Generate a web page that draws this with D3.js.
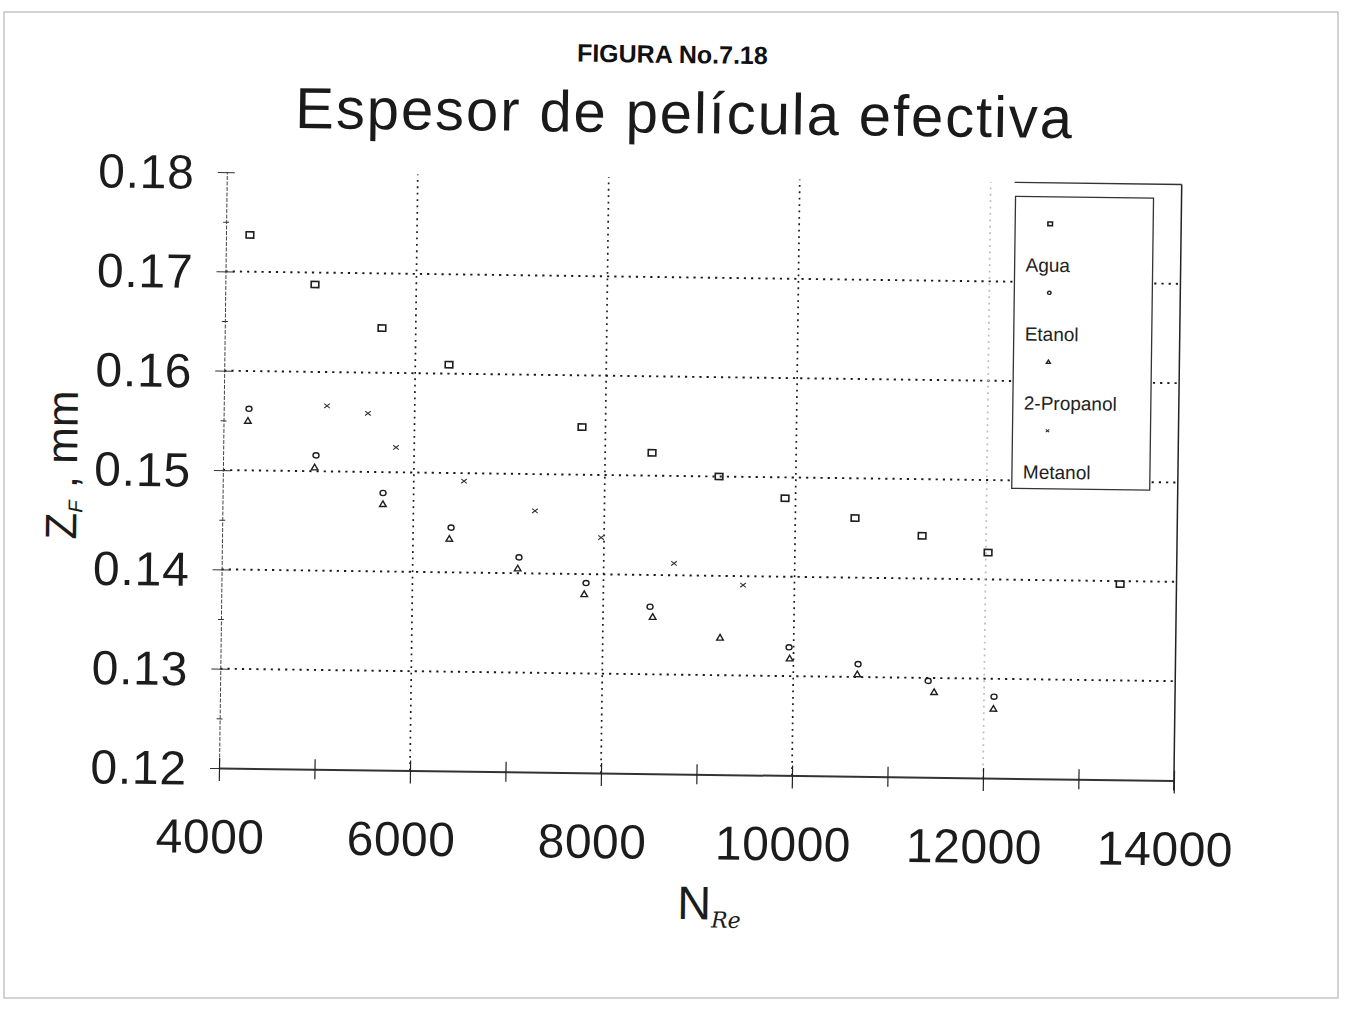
<!DOCTYPE html>
<html>
<head>
<meta charset="utf-8">
<script src="https://cdn.jsdelivr.net/npm/d3@7"></script>
<style>
  html, body { margin: 0; padding: 0; background: #fff; }
  svg { display: block; font-family: "Liberation Sans", Arial, sans-serif; }
</style>
</head>
<body>
<svg id="chart" width="1361" height="1011"></svg>
<script>
// Effective film thickness Z_F (mm) versus Reynolds number N_Re
const xTicks = [4000, 6000, 8000, 10000, 12000, 14000];
const yTicks = [0.12, 0.13, 0.14, 0.15, 0.16, 0.17, 0.18];
const seriesNames = ["Agua", "Etanol", "2-Propanol", "Metanol"];

const reAgua = [4251, 4939, 5646, 6353, 7754, 8491, 9196, 9890, 10625, 11330, 12023, 13410];
const zAgua  = [0.1737, 0.1688, 0.1645, 0.1609, 0.1548, 0.1523, 0.1500, 0.1479, 0.1460, 0.1443, 0.1427, 0.1397];

const reEtanol = [4265, 4973, 5680, 6397, 7112, 7818, 8491, 9952, 10677, 11413, 12105];
const zEtanol  = [0.1562, 0.1516, 0.1479, 0.1445, 0.1416, 0.1391, 0.1368, 0.1329, 0.1313, 0.1297, 0.1282];

const rePropanol = [4255, 4960, 5680, 6380, 7100, 7800, 8520, 9228, 9960, 10670, 11477, 12100];
const zPropanol  = [0.1550, 0.1504, 0.1468, 0.1434, 0.1405, 0.1380, 0.1358, 0.1338, 0.1318, 0.1303, 0.1286, 0.1270];

const reMetanol = [5082, 5511, 5809, 6526, 7273, 7969, 8736, 9462];
const zMetanol  = [0.1566, 0.1559, 0.1525, 0.1492, 0.1463, 0.1437, 0.1412, 0.1391];

const svg = d3.select("#chart");

// page frame
svg.append("rect")
  .attr("x", 4).attr("y", 12).attr("width", 1334).attr("height", 986)
  .attr("fill", "none").attr("stroke", "#a8a8a8").attr("stroke-width", 1);

const x0 = 219, y0 = 768;
const x = d3.scaleLinear().domain([4000, 14000]).range([x0, 1174]);
const y = d3.scaleLinear().domain([0.12, 0.18]).range([y0, 172]);

// the whole figure sits slightly tilted on the sheet
const g = svg.append("g").attr("transform", `rotate(0.75, ${x0}, ${y0})`);

// titles
g.append("text").attr("x", 663).attr("y", 57).attr("text-anchor", "middle")
  .attr("font-size", 25).attr("font-weight", "bold").attr("fill", "#111")
  .text("FIGURA No.7.18");
g.append("text").attr("x", 676).attr("y", 127).attr("text-anchor", "middle")
  .attr("font-size", 58).attr("letter-spacing", 1.9).attr("fill", "#1a1a1a")
  .text("Espesor de película efectiva");

// horizontal grid
g.append("g").selectAll("line")
  .data(yTicks.filter(v => v > 0.12 && v < 0.18))
  .join("line")
  .attr("x1", x(4000)).attr("x2", x(14000))
  .attr("y1", d => y(d)).attr("y2", d => y(d))
  .attr("stroke", "#1a1a1a").attr("stroke-width", 1.9).attr("stroke-dasharray", "2.2,5");

// vertical grid
g.append("g").selectAll("line")
  .data(xTicks.filter(v => v > 4000 && v < 14000))
  .join("line")
  .attr("x1", d => x(d)).attr("x2", d => x(d))
  .attr("y1", y(0.12)).attr("y2", y(0.18))
  .attr("stroke", d => d === 12000 ? "#bbb" : "#1a1a1a")
  .attr("stroke-width", 1.7).attr("stroke-dasharray", "1.8,4.6");

// frame: right border and the top segment near the legend
g.append("line").attr("x1", x(14000)).attr("x2", x(14000))
  .attr("y1", y(0.18)).attr("y2", y(0.12) + 10)
  .attr("stroke", "#222").attr("stroke-width", 1.5);
g.append("line").attr("x1", x(12250)).attr("x2", x(14000))
  .attr("y1", y(0.18)).attr("y2", y(0.18))
  .attr("stroke", "#333").attr("stroke-width", 1.4);

// left axis (thin broken line with ticks)
const yAxis = d3.axisLeft(y).tickValues(d3.range(0.12, 0.1801, 0.005)).tickSize(0).tickFormat("");
const gy = g.append("g").attr("transform", `translate(${x0},0)`).call(yAxis);
gy.select(".domain").attr("stroke", "#444").attr("stroke-width", 1).attr("stroke-dasharray", "4,1.5");
gy.selectAll(".tick").append("line")
  .attr("x1", (d, i) => i % 2 === 0 ? -9 : -3)
  .attr("x2", (d, i) => i % 2 === 0 ? 8 : 3)
  .attr("stroke", "#333").attr("stroke-width", 1);
g.append("g").selectAll("text").data(yTicks).join("text")
  .attr("x", 187).attr("y", d => y(d) + 17)
  .attr("text-anchor", "end").attr("font-size", 48).attr("letter-spacing", 0.8).attr("fill", "#1c1c1c")
  .text(d => d3.format(".2f")(d));

// bottom axis
const xAxis = d3.axisBottom(x).tickValues(d3.range(4000, 14001, 1000)).tickSize(0).tickFormat("");
const gx = g.append("g").attr("transform", `translate(0,${y0})`).call(xAxis);
gx.select(".domain").attr("stroke", "#333").attr("stroke-width", 2);
gx.selectAll(".tick").append("line")
  .attr("y1", -10).attr("y2", (d, i) => i % 2 === 0 ? 13 : 10)
  .attr("stroke", "#222").attr("stroke-width", 1.2);
g.append("g").selectAll("text").data(xTicks).join("text")
  .attr("x", d => x(d) - 8).attr("y", 853)
  .attr("text-anchor", "middle").attr("font-size", 48).attr("letter-spacing", 0.5).attr("fill", "#1c1c1c")
  .text(d => d);

// axis titles
const xt = g.append("text").attr("x", 679).attr("y", 913).attr("font-size", 47).attr("fill", "#1c1c1c");
xt.append("tspan").text("N");
xt.append("tspan").attr("dy", 8).attr("font-size", 22).attr("font-style", "italic")
  .attr("font-family", "DejaVu Serif, serif").text("Re");

const yt = g.append("text").attr("transform", "translate(73,467) rotate(-90)")
  .attr("text-anchor", "middle").attr("font-size", 44).attr("fill", "#1c1c1c");
yt.append("tspan").text("Z");
yt.append("tspan").attr("dy", 6).attr("font-size", 20).attr("font-style", "italic").text("F");
yt.append("tspan").attr("dy", -6).text(" , mm");

// marker shapes
const ink = "#1e1e1e";
function drawMarker(sel, kind, s) {
  if (kind === "square") {
    sel.append("rect").attr("x", -3.8 * s).attr("y", -3.1 * s).attr("width", 7.6 * s).attr("height", 6.2 * s)
      .attr("fill", "none").attr("stroke", ink).attr("stroke-width", 1.6);
  } else if (kind === "circle") {
    sel.append("ellipse").attr("rx", 3 * s).attr("ry", 2.6 * s)
      .attr("fill", "none").attr("stroke", ink).attr("stroke-width", 1.4);
  } else if (kind === "triangle") {
    sel.append("path").attr("d", `M0,${-3 * s}L${3.3 * s},${2.6 * s}L${-3.3 * s},${2.6 * s}Z`)
      .attr("fill", "none").attr("stroke", ink).attr("stroke-width", 1.4);
  } else {
    sel.append("path").attr("d", `M${-2.8 * s},${-2.2 * s}L${2.8 * s},${2.2 * s}M${-2.8 * s},${2.2 * s}L${2.8 * s},${-2.2 * s}`)
      .attr("fill", "none").attr("stroke", "#333").attr("stroke-width", 1.1);
  }
}

const series = [
  { name: seriesNames[0], kind: "square",   re: reAgua,     z: zAgua },
  { name: seriesNames[1], kind: "circle",   re: reEtanol,   z: zEtanol },
  { name: seriesNames[2], kind: "triangle", re: rePropanol, z: zPropanol },
  { name: seriesNames[3], kind: "x",        re: reMetanol,  z: zMetanol }
];

series.forEach(s => {
  g.append("g").selectAll("g").data(s.re.map((r, i) => [r, s.z[i]])).join("g")
    .attr("transform", d => `translate(${x(d[0])},${y(d[1])})`)
    .each(function () { drawMarker(d3.select(this), s.kind, 1); });
});

// legend
const lg = g.append("g");
lg.append("rect").attr("x", 1008).attr("y", 186).attr("width", 138).attr("height", 292)
  .attr("fill", "#fff").attr("stroke", "#333").attr("stroke-width", 1.3);
series.forEach((s, i) => {
  const m = lg.append("g").attr("transform", `translate(1043,${213 + i * 69})`);
  drawMarker(m, s.kind, 0.6);
  lg.append("text").attr("x", 1019).attr("y", 261 + i * 69)
    .attr("font-size", 19).attr("fill", "#222").text(s.name);
});
</script>
</body>
</html>
